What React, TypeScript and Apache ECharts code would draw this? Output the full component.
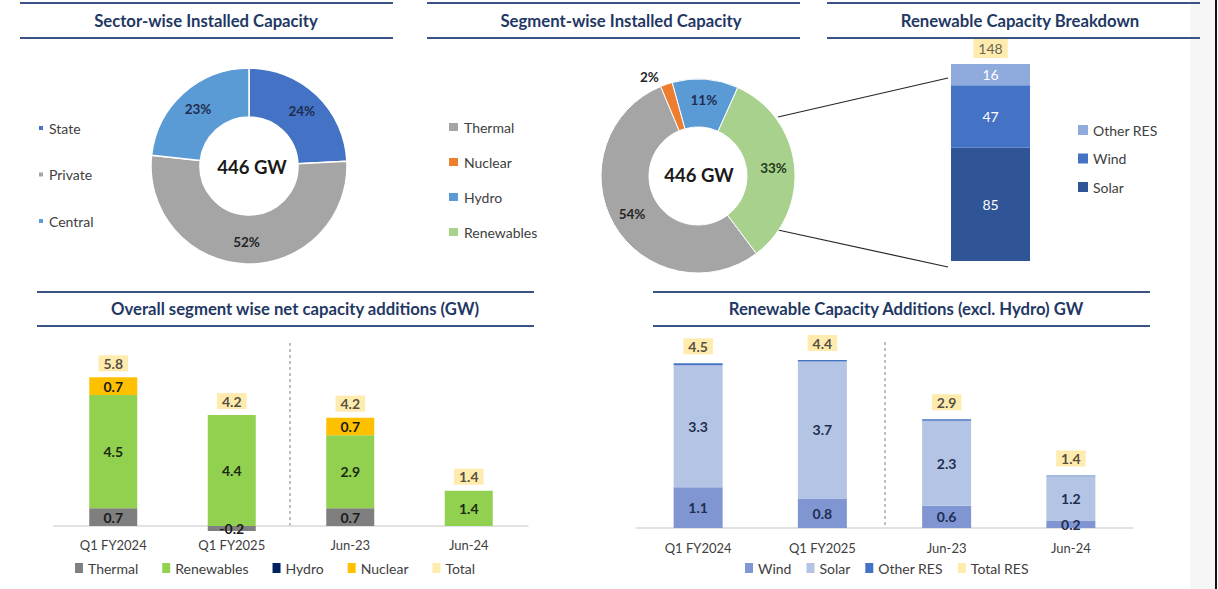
import React, { useEffect, useRef } from 'react';
import * as echarts from 'echarts';

// ---------- data ----------
const sectorNames = ['State', 'Private', 'Central'];
const sectorValues = [24, 52, 23];
const sectorColors = ['#4472C4', '#A5A5A5', '#5B9BD5'];

const segmentNames = ['Thermal', 'Nuclear', 'Hydro', 'Renewables'];
const segmentValues = [54, 2, 11, 33];
const segmentColors = ['#A5A5A5', '#ED7D31', '#5B9BD5', '#A9D18E'];
const segmentLabelColors = ['#262626', '#262626', '#1F2D50', '#1E3A14'];

const totalCapacityLabel = '446 GW';

const resBreakdownNames = ['Solar', 'Wind', 'Other RES'];
const resBreakdownValues = [85, 47, 16];
const resBreakdownColors = ['#2F5597', '#4472C4', '#8FAADC'];
const resBreakdownTotal = 148;

const periods = ['Q1 FY2024', 'Q1 FY2025', 'Jun-23', 'Jun-24'];
const thermalAdd = [0.7, -0.2, 0.7, 0];
const renewablesAdd = [4.5, 4.4, 2.9, 1.4];
const hydroAdd = [0, 0, 0, 0];
const nuclearAdd = [0.7, 0, 0.7, 0];
const totalAdd = [5.8, 4.2, 4.2, 1.4];

const windAdd = [1.1, 0.8, 0.6, 0.2];
const solarAdd = [3.3, 3.7, 2.3, 1.2];
const otherResAdd = [0.05, 0.04, 0.04, 0.02];
const totalResAdd = [4.5, 4.4, 2.9, 1.4];

// ---------- styles ----------
const FONT = 'Lato, "Open Sans", sans-serif';
const NAVY = '#1F3864';
const RULE = '#3B5284';
const LEG_TEXT = '#404040';

function titleBlock(cx: number, x1: number, x2: number, yTop: number, yBot: number, text: string) {
  return [
    { type: 'line', shape: { x1, y1: yTop, x2, y2: yTop }, style: { stroke: RULE, lineWidth: 2 } },
    { type: 'line', shape: { x1, y1: yBot, x2, y2: yBot }, style: { stroke: RULE, lineWidth: 2 } },
    {
      type: 'text', x: cx, y: (yTop + yBot) / 2,
      style: { text, fill: NAVY, fontSize: 16.7, fontWeight: 'bold', fontFamily: FONT, align: 'center', verticalAlign: 'middle' },
    },
  ];
}

function buildTop(): any {
  return {
    animation: false,
    textStyle: { fontFamily: FONT },
    graphic: [
      ...titleBlock(206, 20, 393, 3, 38, 'Sector-wise Installed Capacity'),
      ...titleBlock(621, 427, 800, 3, 38, 'Segment-wise Installed Capacity'),
      ...titleBlock(1020, 827, 1200, 3, 38, 'Renewable Capacity Breakdown'),
      {
        type: 'text', x: 252, y: 167,
        style: { text: totalCapacityLabel, fontSize: 18.5, fontWeight: 'bold', fill: '#1a1a1a', fontFamily: FONT, align: 'center', verticalAlign: 'middle' },
      },
      {
        type: 'text', x: 699, y: 175,
        style: { text: totalCapacityLabel, fontSize: 18.5, fontWeight: 'bold', fill: '#1a1a1a', fontFamily: FONT, align: 'center', verticalAlign: 'middle' },
      },
      { type: 'line', shape: { x1: 778, y1: 117, x2: 948, y2: 78 }, style: { stroke: '#262626', lineWidth: 1.2 } },
      { type: 'line', shape: { x1: 778, y1: 230, x2: 948, y2: 267 }, style: { stroke: '#262626', lineWidth: 1.2 } },
    ],
    legend: [
      {
        orient: 'vertical', left: 37, top: 121, padding: 0, itemWidth: 6, itemHeight: 6, itemGap: 32.5, icon: 'rect',
        data: sectorNames, textStyle: { fontSize: 14, color: LEG_TEXT, lineHeight: 14 },
      },
      {
        orient: 'vertical', left: 447, top: 120, padding: 0, itemWidth: 11, itemHeight: 10, itemGap: 21, icon: 'rect',
        data: segmentNames, textStyle: { fontSize: 14, color: LEG_TEXT, lineHeight: 14 },
      },
      {
        orient: 'vertical', left: 1078, top: 123, padding: 0, itemWidth: 10, itemHeight: 10, itemGap: 14.5, icon: 'rect',
        data: ['Other RES', 'Wind', 'Solar'], textStyle: { fontSize: 14, color: LEG_TEXT, lineHeight: 14 },
      },
    ],
    grid: { left: 951, top: 64, width: 79, height: 197 },
    xAxis: { type: 'category', data: ['Renewables'], show: false },
    yAxis: { type: 'value', min: 0, max: resBreakdownTotal, show: false },
    series: [
      {
        type: 'pie', center: [249, 166], radius: [49, 98], startAngle: 90, clockwise: true,
        avoidLabelOverlap: false,
        itemStyle: { borderColor: '#fff', borderWidth: 1.5 },
        label: { show: true, position: 'inside', formatter: '{c}%', fontSize: 13.5, fontWeight: 'bold', color: '#1F2D50' },
        labelLine: { show: false },
        data: sectorNames.map((n, i) => ({
          name: n, value: sectorValues[i], itemStyle: { color: sectorColors[i] },
          label: { color: i === 1 ? '#262626' : '#1F2D50' },
        })),
      },
      {
        type: 'pie', center: [698, 176], radius: [49, 97], startAngle: -53, clockwise: true,
        avoidLabelOverlap: false,
        itemStyle: { borderColor: '#fff', borderWidth: 1 },
        label: { show: true, position: 'inside', formatter: '{c}%', fontSize: 13.5, fontWeight: 'bold' },
        labelLine: { show: false, length: 8, length2: 0 },
        data: segmentNames.map((n, i) => ({
          name: n, value: segmentValues[i], itemStyle: { color: segmentColors[i] },
          label: i === 1
            ? { position: 'outside', color: segmentLabelColors[i] }
            : { color: segmentLabelColors[i] },
          labelLine: { show: false, length: 8, length2: 0 },
        })),
      },
      ...resBreakdownNames.map((n, i) => ({
        type: 'bar', name: n, stack: 'res', barWidth: '100%', data: [resBreakdownValues[i]],
        itemStyle: { color: resBreakdownColors[i] },
        label: { show: true, position: 'inside', color: '#fff', fontSize: 14 },
      })),
      {
        type: 'scatter', data: [resBreakdownTotal], symbolSize: 0, z: 5,
        itemStyle: { color: '#FFE699' },
        label: {
          show: true, position: 'top', distance: 6, formatter: String(resBreakdownTotal),
          backgroundColor: '#FFE699', padding: [2, 5], fontSize: 14, color: LEG_TEXT, lineHeight: 15,
        },
      },
    ],
  };
}

function buildBottom(): any {
  const barLabel = (color: string) => ({
    show: true, position: 'inside', fontSize: 14, fontWeight: 'bold', color,
    formatter: (p: any) => (p.value === 0 ? '' : String(p.value)),
  });
  const posTop = periods.map((_, i) =>
    [thermalAdd[i], renewablesAdd[i], hydroAdd[i], nuclearAdd[i]].reduce((s, v) => s + (v > 0 ? v : 0), 0));
  const resTop = periods.map((_, i) => windAdd[i] + solarAdd[i] + otherResAdd[i]);
  const totalLabel = (arr: number[], dist: number) => ({
    show: true, position: 'top', distance: dist,
    formatter: (p: any) => arr[p.dataIndex].toFixed(1),
    backgroundColor: '#FFE699', padding: [1, 5], fontSize: 14, fontWeight: 'bold', color: '#262626', lineHeight: 14,
  });
  const xAxisBase = (grid: number, margin: number) => ({
    gridIndex: grid, type: 'category', data: periods,
    axisLine: { onZero: true, lineStyle: { color: '#D9D9D9', width: 1.5 } },
    axisTick: { show: false },
    axisLabel: { color: LEG_TEXT, fontSize: 13, margin },
  });
  return {
    animation: false,
    textStyle: { fontFamily: FONT },
    graphic: [
      ...titleBlock(295, 37, 534, 7, 41, 'Overall segment wise net capacity additions (GW)'),
      ...titleBlock(906, 653, 1150, 7, 41, 'Renewable Capacity Additions (excl. Hydro) GW'),
      { type: 'line', shape: { x1: 290, y1: 58, x2: 290, y2: 243 }, style: { stroke: '#7F7F7F', lineWidth: 1, lineDash: [3, 3] } },
      { type: 'line', shape: { x1: 885, y1: 57, x2: 885, y2: 243 }, style: { stroke: '#7F7F7F', lineWidth: 1, lineDash: [3, 3] } },
    ],
    legend: [
      {
        left: 75, top: 276, padding: 0, itemWidth: 8, itemHeight: 10, itemGap: 24, icon: 'rect',
        data: ['Thermal', 'Renewables', 'Hydro', 'Nuclear', 'Total'],
        textStyle: { fontSize: 14, color: LEG_TEXT, lineHeight: 14 },
      },
      {
        left: 745, top: 276, padding: 0, itemWidth: 8, itemHeight: 10, itemGap: 15, icon: 'rect',
        data: ['Wind', 'Solar', 'Other RES', 'Total RES'],
        textStyle: { fontSize: 14, color: LEG_TEXT, lineHeight: 14 },
      },
    ],
    grid: [
      { left: 54, top: 64.6, width: 474, height: 182.7 },
      { left: 636, top: 58, width: 497, height: 185 },
    ],
    xAxis: [xAxisBase(0, 6), xAxisBase(1, 13)],
    yAxis: [
      { gridIndex: 0, type: 'value', min: -0.25, max: 7, show: false },
      { gridIndex: 1, type: 'value', min: 0, max: 5, show: false },
    ],
    series: [
      { type: 'bar', name: 'Thermal', stack: 'a', barWidth: 48, data: thermalAdd, itemStyle: { color: '#7F7F7F' }, label: barLabel('#1a1a1a') },
      { type: 'bar', name: 'Renewables', stack: 'a', barWidth: 48, data: renewablesAdd, itemStyle: { color: '#92D050' }, label: barLabel('#1a2a10') },
      { type: 'bar', name: 'Hydro', stack: 'a', barWidth: 48, data: hydroAdd, itemStyle: { color: '#002060' }, label: barLabel('#ffffff') },
      { type: 'bar', name: 'Nuclear', stack: 'a', barWidth: 48, data: nuclearAdd, itemStyle: { color: '#FFC000' }, label: barLabel('#1a1a1a') },
      { type: 'scatter', name: 'Total', data: posTop, symbolSize: 0, z: 5, itemStyle: { color: '#FFE699' }, label: totalLabel(totalAdd, 6) },

      { type: 'bar', name: 'Wind', stack: 'b', xAxisIndex: 1, yAxisIndex: 1, barWidth: 49, data: windAdd, itemStyle: { color: '#7F96D3' }, label: barLabel('#1F2D50') },
      { type: 'bar', name: 'Solar', stack: 'b', xAxisIndex: 1, yAxisIndex: 1, barWidth: 49, data: solarAdd, itemStyle: { color: '#B4C4E4' }, label: barLabel('#1F2D50') },
      { type: 'bar', name: 'Other RES', stack: 'b', xAxisIndex: 1, yAxisIndex: 1, barWidth: 49, data: otherResAdd, itemStyle: { color: '#4472C4' }, label: { show: false } },
      { type: 'scatter', name: 'Total RES', xAxisIndex: 1, yAxisIndex: 1, data: resTop, symbolSize: 0, z: 5, itemStyle: { color: '#FFE699' }, label: totalLabel(totalResAdd, 9) },
    ],
  };
}

export default function App() {
  const topRef = useRef<HTMLDivElement>(null);
  const botRef = useRef<HTMLDivElement>(null);
  useEffect(() => {
    const top = echarts.init(topRef.current!, null, { renderer: 'svg' });
    const bot = echarts.init(botRef.current!, null, { renderer: 'svg' });
    top.setOption(buildTop());
    bot.setOption(buildBottom());
    return () => {
      top.dispose();
      bot.dispose();
    };
  }, []);
  return (
    <div style={{ position: 'absolute', left: 0, top: 0, width: 1218, height: 589, background: '#fff', overflow: 'hidden' }}>
      <div style={{ position: 'absolute', left: 1190, top: 0, width: 25, height: 589, background: '#F6F6F6' }} />
      <div style={{ position: 'absolute', left: 1215, top: 0, width: 2, height: 589, background: '#111' }} />
      <div ref={topRef} style={{ position: 'absolute', left: 0, top: 0, width: 1218, height: 285 }} />
      <div ref={botRef} style={{ position: 'absolute', left: 0, top: 285, width: 1218, height: 304 }} />
    </div>
  );
}
